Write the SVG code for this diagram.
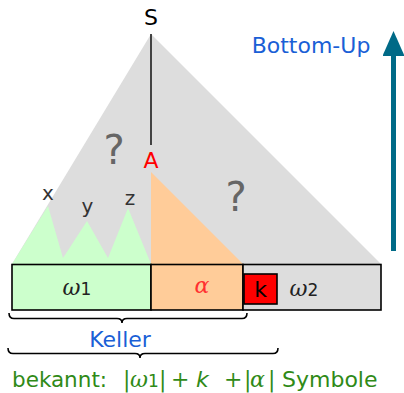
<svg xmlns="http://www.w3.org/2000/svg" width="404" height="393" viewBox="0 0 404 393">
<style>
.sans{font-family:"DejaVu Sans",sans-serif}
.math{font-family:"DejaVu Serif",serif;font-style:italic}
.box{stroke:#000;stroke-width:1.6}
.brace{fill:none;stroke:#000;stroke-width:1.6}
.q{font-family:"DejaVu Sans",sans-serif;font-size:40px;fill:#666;text-anchor:middle}
.lbl{font-family:"DejaVu Sans",sans-serif;font-size:20px;fill:#333;text-anchor:middle}
</style>
<defs>
<marker id="ah" markerWidth="5" markerHeight="4.4" refX="0" refY="2.2" orient="auto" markerUnits="strokeWidth">
<path d="M0,0 L5,2.2 L0,4.4 Z" fill="#006a87"/>
</marker>
</defs>
<g id="tree">
<polygon points="151,34 12,264 381,264" fill="#dddddd"/>
<polygon points="12,264 48,206 63,258 87,221 108,258 128,208 151,264" fill="#ccffcc"/>
<polygon points="151,172 151,264 243,264" fill="#ffcc99"/>
</g>
<g id="connectors">
<line x1="151" y1="34" x2="151" y2="145" stroke="#000" stroke-width="1.4"/>
<line x1="393.5" y1="251" x2="393.5" y2="56" stroke="#006a87" stroke-width="5" marker-end="url(#ah)"/>
</g>
<g id="S"><text x="151" y="25" class="sans" font-size="22" text-anchor="middle" fill="#000">S</text></g>
<g id="A"><text x="151" y="168" class="sans" font-size="22" text-anchor="middle" fill="#ff0000">A</text></g>
<g id="q1"><text x="114" y="164" class="q">?</text></g>
<g id="q2"><text x="236" y="211" class="q">?</text></g>
<g id="x"><text x="48" y="200" class="lbl">x</text></g>
<g id="y"><text x="87.5" y="213" class="lbl">y</text></g>
<g id="z"><text x="130" y="205" class="lbl">z</text></g>
<g id="bottomup"><text x="311" y="53" class="sans" font-size="22" text-anchor="middle" fill="#1a5fd6">Bottom-Up</text></g>
<g id="w1box">
<rect x="12" y="264.5" width="139" height="45.5" fill="#ccffcc" class="box"/>
<text x="77" y="295" font-size="22" fill="#222" text-anchor="middle"><tspan class="math">ω</tspan><tspan class="sans" font-size="17">1</tspan></text>
</g>
<g id="alphabox">
<rect x="151" y="264.5" width="92" height="45.5" fill="#ffcc99" class="box"/>
<text x="202" y="293" class="math" font-size="22" fill="#ff3030" text-anchor="middle">α</text>
</g>
<g id="w2box">
<rect x="243" y="264.5" width="138" height="45.5" fill="#dddddd" class="box"/>
<text x="304" y="296" font-size="22" fill="#222" text-anchor="middle"><tspan class="math">ω</tspan><tspan class="sans" font-size="17">2</tspan></text>
</g>
<g id="kbox">
<rect x="244" y="274" width="33" height="30" fill="#ff0000" class="box"/>
<text x="260.5" y="297" class="sans" font-size="22" fill="#000" text-anchor="middle">k</text>
</g>
<g id="keller">
<path class="brace" d="M9,313 Q9,318.5 14,318.5 L117,318.5 Q122,318.5 122,323 Q122,318.5 127,318.5 L242,318.5 Q247,318.5 247,313"/>
<text x="120" y="347" class="sans" font-size="22" fill="#1a5fd6" text-anchor="middle">Keller</text>
</g>
<g id="bekannt">
<path class="brace" d="M8,348 Q8,353.5 13,353.5 L135,353.5 Q140,353.5 140,358 Q140,353.5 145,353.5 L273,353.5 Q278,353.5 278,348"/>
<text y="387" font-size="22" fill="#2f8a17"><tspan x="12" class="sans" font-size="21.5">bekannt:</tspan><tspan x="123" font-family="DejaVu Serif,serif">|</tspan><tspan x="130" class="math">ω</tspan><tspan x="148" class="sans" font-size="17">1</tspan><tspan x="159" font-family="DejaVu Serif,serif">|</tspan><tspan x="171" font-family="DejaVu Serif,serif">+</tspan><tspan x="196" class="sans" font-style="italic">k</tspan><tspan x="224" font-family="DejaVu Serif,serif">+</tspan><tspan x="244" font-family="DejaVu Serif,serif">|</tspan><tspan x="250" class="math">α</tspan><tspan x="268" font-family="DejaVu Serif,serif">|</tspan><tspan x="282" class="sans">Symbole</tspan></text>
</g>
</svg>
